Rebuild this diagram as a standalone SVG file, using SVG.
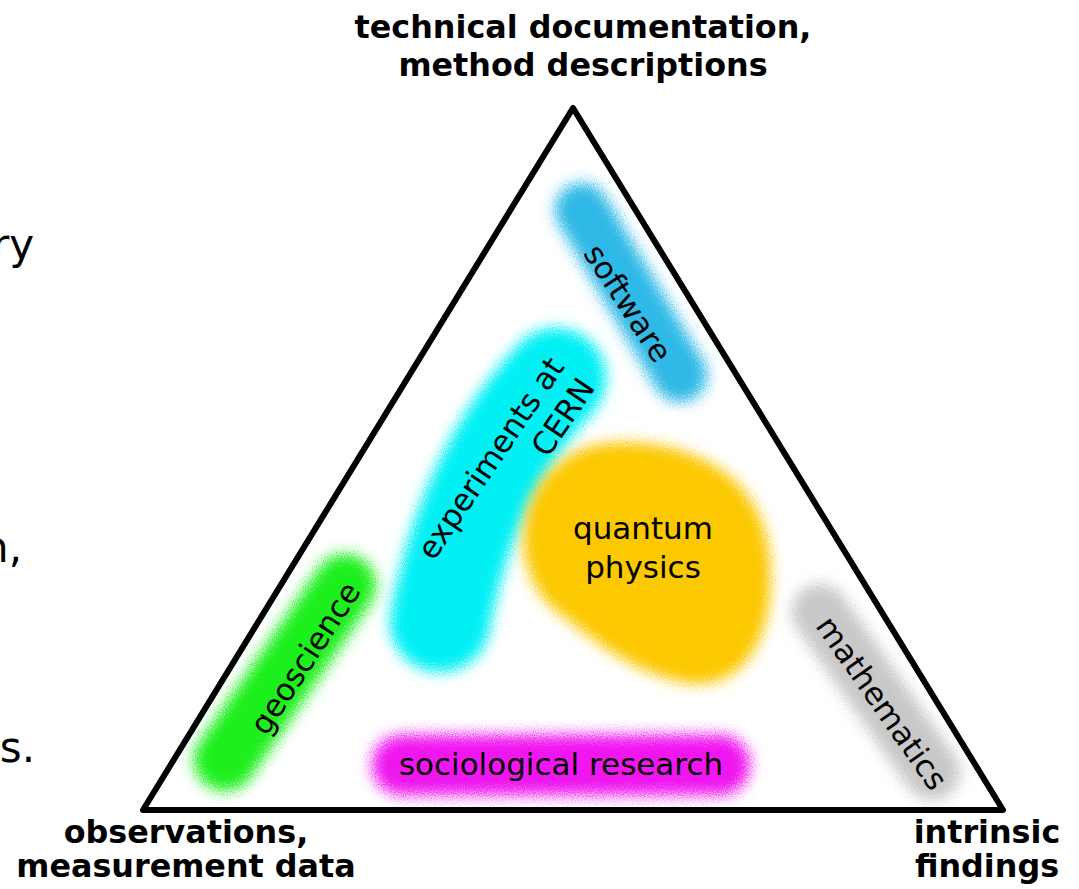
<svg xmlns="http://www.w3.org/2000/svg" width="1079" height="889" viewBox="0 0 1079 889">
<defs>
<filter id="spray" filterUnits="userSpaceOnUse" x="0" y="0" width="1079" height="889">
<feGaussianBlur in="SourceGraphic" stdDeviation="7" result="b"/>
<feTurbulence type="fractalNoise" baseFrequency="0.9" numOctaves="1" seed="4" result="n"/>
<feDisplacementMap in="b" in2="n" scale="18" xChannelSelector="R" yChannelSelector="G"/>
</filter>
</defs>
<style>
.blob{fill:none;stroke-linecap:round;stroke-linejoin:round;filter:url(#spray)}
.lbl{font-family:"DejaVu Sans","Liberation Sans",sans-serif;font-size:31px;fill:#000}
.corner{font-family:"DejaVu Sans","Liberation Sans",sans-serif;font-size:31.8px;font-weight:bold;fill:#000;text-anchor:middle}
.side{font-family:"DejaVu Sans","Liberation Sans",sans-serif;font-size:42px;fill:#000;text-anchor:end}
.mid{text-anchor:middle}
</style>
<rect width="1079" height="889" fill="#fff"/>

<g id="side-text">
<text class="side" x="34" y="259">ry</text>
<text class="side" x="22" y="562">n,</text>
<text class="side" x="35" y="762">s.</text>
</g>

<g id="blobs">
<path id="blob-software" class="blob" d="M582 210 L680 375" stroke="#2db9e6" stroke-width="54"/>
<path id="blob-cern" class="blob" d="M556 378 Q468 470 440 622" stroke="#00f0f4" stroke-width="100"/>
<path id="blob-quantum" class="blob" d="M610 446 C682 441 760 472 767 560 C773 640 738 688 688 680 C638 672 600 642 560 610 C520 580 517 520 545 482 C565 457 586 448 610 446 Z" stroke="#fcc800" stroke-width="6" style="fill:#fcc800"/>
<path id="blob-geoscience" class="blob" d="M345 585 L225 760" stroke="#1eef1e" stroke-width="62"/>
<path id="blob-sociological" class="blob" d="M402 765 L720 765" stroke="#ef14ef" stroke-width="60"/>
<path id="blob-mathematics" class="blob" d="M820 612 L932 772" stroke="#c8c8c8" stroke-width="56"/>
</g>

<g id="connectors">
<path id="triangle" d="M573 108 L1003 810 L143 810 Z" fill="none" stroke="#000" stroke-width="6" stroke-linejoin="round"/>
</g>

<g id="node-top">
<text class="corner" x="583" y="38">technical documentation,</text>
<text class="corner" x="583" y="76">method descriptions</text>
</g>
<g id="node-bottom-left">
<text class="corner" x="186" y="843">observations,</text>
<text class="corner" x="186" y="877">measurement data</text>
</g>
<g id="node-bottom-right">
<text class="corner" x="987" y="843">intrinsic</text>
<text class="corner" x="987" y="877">findings</text>
</g>

<g id="node-software">
<text class="lbl mid" transform="translate(628,303) rotate(57)" y="11">software</text>
</g>
<g id="node-cern">
<g transform="translate(497,468) rotate(-56)">
<text class="lbl" x="122" y="0" text-anchor="end">experiments at</text>
<text class="lbl" x="122" y="37" text-anchor="end">CERN</text>
</g>
</g>
<g id="node-quantum">
<text class="lbl mid" x="643" y="539">quantum</text>
<text class="lbl mid" x="643" y="578">physics</text>
</g>
<g id="node-geoscience">
<text class="lbl mid" transform="translate(305,658) rotate(-57)" y="11">geoscience</text>
</g>
<g id="node-sociological">
<text class="lbl mid" x="561" y="775">sociological research</text>
</g>
<g id="node-mathematics">
<text class="lbl mid" transform="translate(882,703) rotate(55)" y="11">mathematics</text>
</g>
</svg>
